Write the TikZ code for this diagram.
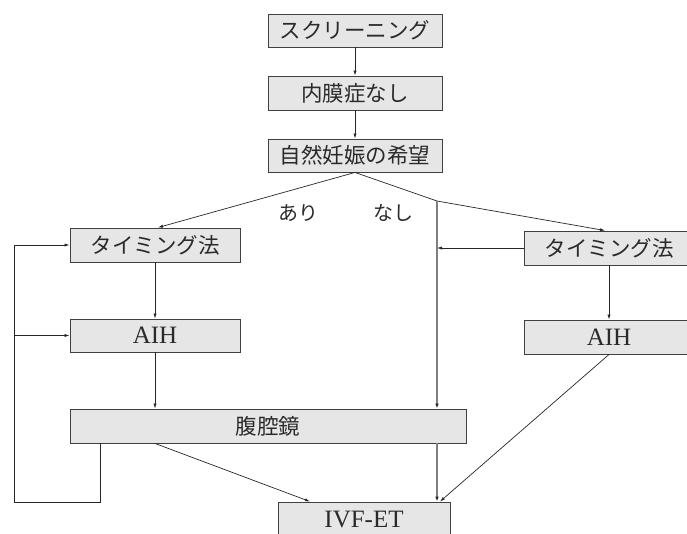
\documentclass[tikz,border=0pt]{standalone}
\usepackage{fontspec}
\newfontfamily\jp{Noto Sans CJK JP}
\newfontfamily\lat{Liberation Serif}
\usetikzlibrary{arrows.meta}
\definecolor{boxfill}{HTML}{E6E6E7}
\definecolor{boxline}{HTML}{404040}
\definecolor{txt}{HTML}{2A2A2A}
\tikzset{
  box/.style={draw=boxline, line width=0.9pt, fill=boxfill, inner sep=0pt, text=txt},
  jptext/.style={font=\jp\fontsize{21.5}{24}\selectfont},
  lmtext/.style={font=\lat\fontsize{25}{28}\selectfont},
  conn/.style={draw=black!85, line width=0.7pt, -{Latex[length=5pt,width=3.2pt]}},
  line/.style={draw=black!85, line width=0.7pt},
  grayconn/.style={draw=black!50, line width=1.4pt, -{Latex[length=5pt,width=3.6pt,color=black!85]}},
  lbl/.style={font=\jp\fontsize{20}{24}\selectfont, text=txt}
}
\begin{document}
\begin{tikzpicture}[x=1pt,y=-1pt]
\useasboundingbox (0,0) rectangle (687,533);
\node[box, jptext, minimum width=174, minimum height=33] (s1) at (355,30.5) {スクリーニング};
\node[box, jptext, minimum width=174, minimum height=34] (s2) at (355,93) {内膜症なし};
\node[box, jptext, minimum width=174, minimum height=33] (s3) at (355,155.5) {自然妊娠の希望};
\node[box, jptext, minimum width=170, minimum height=34] (tl) at (155,245) {タイミング法};
\node[box, lmtext, minimum width=170, minimum height=33] (al) at (155,335.5) {AIH};
\node[box, jptext, minimum width=396, minimum height=34] (lap) at (268,426) {腹腔鏡};
\node[box, lmtext, minimum width=172, minimum height=34] (ivf) at (364,519) {IVF-ET};
\node[box, jptext, minimum width=170, minimum height=34] (tr) at (609,248) {タイミング法};
\node[box, lmtext, minimum width=170, minimum height=34] (ar) at (609,337) {AIH};
\node[lbl] (ari) at (298,213) {あり};
\node[lbl] (nashi) at (393,213) {なし};
\coordinate (bend) at (437,201);
\coordinate (lpa) at (100,443);
\coordinate (lpb) at (14,502);

\draw[conn] (s1) -- (s2);
\draw[conn] (s2) -- (s3);
\draw[conn] (s3.south) -- ([xshift=3pt]tl.north);
\draw[line] (s3.south) -- (bend);
\draw[conn] (bend) -- (tr.north -| 605,0);
\draw[grayconn] (bend) -- (lap.north -| bend);
\draw[grayconn] (lap.south -| bend) -- (ivf.north -| bend);
\draw[conn] (tr.west) -- (tr.west -| bend);
\draw[conn] (tr) -- (ar);
\draw[conn] (tl) -- (al);
\draw[conn] (al) -- (lap.north -| al);
\draw[conn] (lap.south -| al) -- ([xshift=-54pt]ivf.north);
\draw[conn] (ar.south) -- ([xshift=76pt]ivf.north);
\draw[line] (lpa) |- (lpb);
\draw[conn] (lpb) |- (tl.west);
\draw[conn] (lpb |- al.west) -- (al.west);
\end{tikzpicture}
\end{document}
